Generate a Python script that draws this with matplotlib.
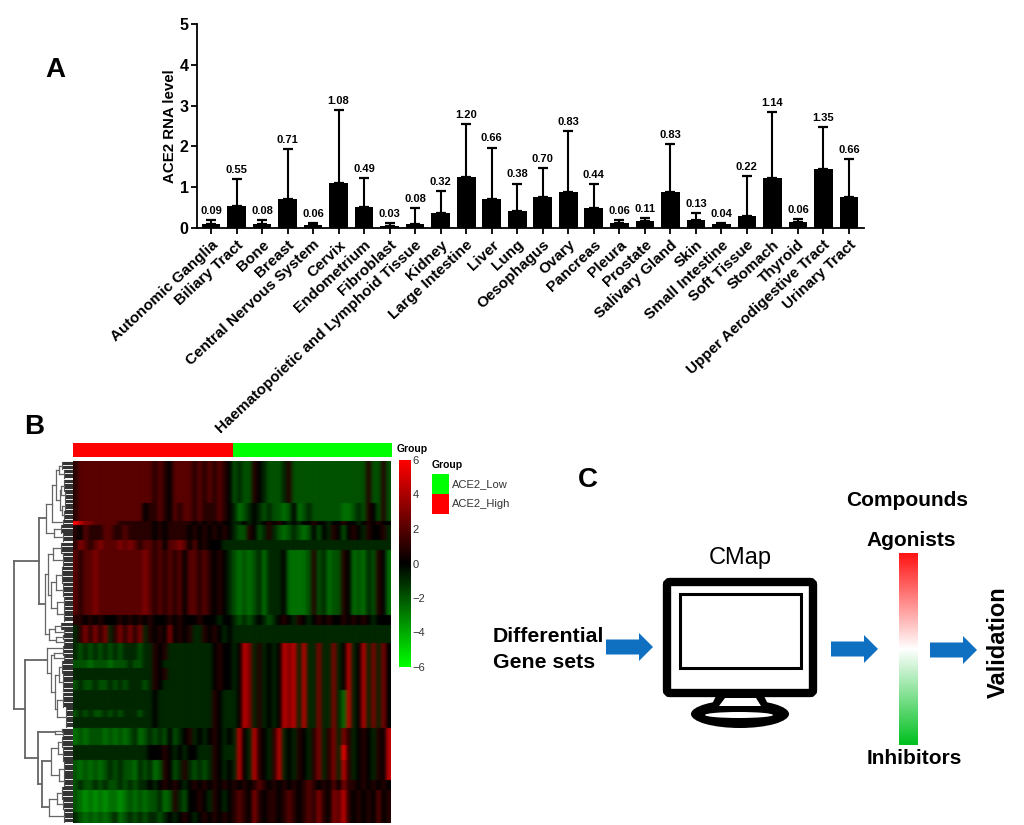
import numpy as np
import matplotlib
matplotlib.use("Agg")
import matplotlib.pyplot as plt
from matplotlib.colors import LinearSegmentedColormap, ListedColormap
from matplotlib.patches import Rectangle, FancyBboxPatch, Ellipse, Polygon, FancyArrow

plt.rcParams['font.family'] = ['Liberation Sans', 'DejaVu Sans']

# -------- panel A values --------
tissues = ['Autonomic Ganglia', 'Biliary Tract', 'Bone', 'Breast', 'Central Nervous System',
           'Cervix', 'Endometrium', 'Fibroblast', 'Haematopoietic and Lymphoid Tissue', 'Kidney',
           'Large Intestine', 'Liver', 'Lung', 'Oesophagus', 'Ovary', 'Pancreas', 'Pleura',
           'Prostate', 'Salivary Gland', 'Skin', 'Small Intestine', 'Soft Tissue', 'Stomach',
           'Thyroid', 'Upper Aerodigestive Tract', 'Urinary Tract']
bar_height = [0.09, 0.55, 0.09, 0.72, 0.07, 1.10, 0.52, 0.06, 0.11, 0.36, 1.24, 0.70, 0.42,
              0.75, 0.88, 0.50, 0.12, 0.17, 0.89, 0.20, 0.11, 0.30, 1.23, 0.15, 1.44, 0.75]
err_top = [0.20, 1.20, 0.20, 1.93, 0.13, 2.90, 1.22, 0.13, 0.48, 0.90, 2.55, 1.97, 1.09,
           1.46, 2.37, 1.08, 0.19, 0.24, 2.06, 0.36, 0.12, 1.27, 2.85, 0.21, 2.48, 1.68]
bar_label = ['0.09', '0.55', '0.08', '0.71', '0.06', '1.08', '0.49', '0.03', '0.08', '0.32',
             '1.20', '0.66', '0.38', '0.70', '0.83', '0.44', '0.06', '0.11', '0.83', '0.13',
             '0.04', '0.22', '1.14', '0.06', '1.35', '0.66']

# -------- panel B heatmap, coarse blocks read by eye --------
# one letter per column block, grouped by 8 (32 ACE2_High columns then 32 ACE2_Low columns)
levels = {'G': -3.4, 'g': -2.6, 'm': -1.9, 'd': -0.9, '.': 0.0, 'r': 0.9, 'c': 2.1, 'R': 3.0, 'H': 4.5, 'B': 6.0}
stripe_a = "d.HRdrd. d.HRHdHd dRddRd.H d.HdRdR."
stripe_b = "d.HRdrd. d.HRHdHd dRddRdgH d.HdRdR."
stripe_c = "dH.dHr.d rHd.dr.d rRdrRdRr d.r.dr.H"
stripe_d = "dH.dHr.d rHd.dr.d rRdrRdBr d.r.dr.H"
stripe_e = "dH.dHr.d rHd.dr.d rRdrRdHr d.r.dr.H"
heat_rows = [
    "rccccccc cccccccc rcr.cccc rcrcrcr. mdmmr.dm mmdrmmmm mmmmmmmm mmmrmmrm",
    "rccccccc cccccc.r rcr.crcc rcrrrcr. dgmd.dmd mmgm.gmd mmmmmmgg mdmr.mrm",
    "BHRRcccc crrrrrrr .r.rrrrr .r.r.r.. dd.d.d.r .r.d.d.. r..d..r. .d.r.r..",
    "r.crrrcc rrcrrrrr .r.rrrr. r.r.r.r. dmmr.mdr dmgmdmgm .m.dr.m. r.dr..rd",
    "rRcrcRcc cRcRcrcc rc.ccRc. c.r...dd dddddddd dddddddd dddddddd dddddddd",
    "crccRccc ccccccRc rcrcrc.c crcr.r.d mgmgmdgd dd.ggggm rmdgmmr. gmgdmr.g",
    "rr.r.r.. .r.r.r.r ...r.r.. .r...d.. dmdmd.dm d.r.dr.d .r.r..r. r.r.d...",
    "drRrRrRd rRrRrRdr .r.R.r.r ddr.r.d. dddddddd dddddddd dddddddd dddddddd",
    "dmdmdmdm dmdddmdd r.rddddd dddd.r.. " + stripe_a,
    "mmmgmmmg mmmdmmdd r.dddddd dddd.r.. " + stripe_a,
    "dddddddd dddddddd r.rddddd dddd.r.. " + stripe_a,
    "mdmmdmmd mdmdddmd r.dddddd dddd.r.. " + stripe_a,
    "dddddddd dddddddd .ddddddd ddddr.dd " + stripe_b,
    "mdmdmmdm dmdddmdd .ddddddd ddddr.dd " + stripe_b,
    "dddddddd dddddddd .ddddddd ddddr.dd " + stripe_b,
    "gmgmmmgm gmgmdgmd mdm.md.r d.d.r.d. " + stripe_c,
    "dddddddd ddddddd. ..r.d.d. .dddr.dd " + stripe_d,
    "mgmgmgmd mdmmgdmd gmr.mdrd mdmdr.d. " + stripe_e,
    "mdmmdmdm mdmdmdd. d.r.r.d. r.r.r.r. r.r.rcr. r.r.r.rc r.r.c.Rr r.r.r.r.",
    "mgGgGgGg gGgmgmgm mdgmrdm. .r.dr.d. rcr.Rr.r r.rcr.rc rRr.RcHr .r.r.c.r",
    "dmgmgmgm dgmdmdmd dmd.d.r. d.r.r.r. rcr.Rr.r r.rcr.rc rRr.RcHr .r.r.c.r",
]
row_sizes = [42, 18, 4, 15, 10, 65, 10, 18, 17, 8, 12, 10, 20, 7, 11, 17, 15, 20, 10, 22, 11]
group_values = [1] * 32 + [0] * 32

# dendrogram: [depth, child, child] or a terminal cluster (first row, last row, depth)
upper_tree = [34,
              [27,
               [21,
                [17, [14, (1, 8, 11), (9, 17, 9)],
                 [13, [12, (19, 30, 9), (30, 38, 8)], [11, (39, 50, 8), (50, 58, 9)]]],
                (59, 63, 10)],
               [19, (64, 72, 12), (72, 80, 10)]],
              [28,
               [25, [20, (82, 92, 12), (92, 105, 10)],
                [22, [17, (106, 122, 11), (122, 135, 10)], [16, (136, 146, 9), (146, 160, 9)]]],
               [24, [18, (162, 168, 12), (168, 174, 9)], [17, (174, 178, 10), (178, 184, 9)]]]]
lower_tree = [48,
              [26, (185, 188, 10),
               [22, [19, (189, 194, 10), (194, 199, 9)],
                [18, [14, (200, 212, 11), (212, 230, 10)], [16, (232, 246, 10), (246, 266, 7)]]]],
              [35,
               [18, (268, 271, 11), (271, 275, 10)],
               [31,
                [22, [15, (276, 286, 11), (286, 300, 10)], [14, (300, 315, 9), (315, 325, 9)]],
                [24, [16, (326, 338, 11), (338, 348, 10)], (348, 361, 9)]]]]
full_tree = [59, upper_tree, lower_tree]


def px_axes(x0, y0, x1, y1):
    # axes from pixel corners of the 1024x825 picture (y counted from the top)
    return fig.add_axes([x0 / 1024, 1 - y1 / 825, (x1 - x0) / 1024, (y1 - y0) / 825])


def draw_tree(ax, node):
    # returns the row where the parent branch joins and the depth of this node
    if isinstance(node, tuple):
        first, last, depth = node
        for r in np.arange(first, last + 0.1, 1.2):
            ax.plot([-depth, 0], [r, r], color='#333333', lw=0.8, solid_capstyle='butt')
        ax.plot([-depth, -depth], [first, last], color='#555555', lw=0.8)
        return (first + last) / 2, depth
    depth, a, b = node
    ya, da = draw_tree(ax, a)
    yb, db = draw_tree(ax, b)
    lw = 1.3 if depth > 30 else 0.9
    ax.plot([-depth, -depth], [ya, yb], color='#666666', lw=lw)
    ax.plot([-depth, -da], [ya, ya], color='#666666', lw=lw)
    ax.plot([-depth, -db], [yb, yb], color='#666666', lw=lw)
    return (ya + yb) / 2, depth


fig = plt.figure(figsize=(10.24, 8.25), dpi=100, facecolor='white')

# ================ panel A ================
ax_a = px_axes(197, 24, 864, 228)
xpos = np.arange(len(tissues))
ax_a.bar(xpos, bar_height, width=0.73, color='black')
ax_a.errorbar(xpos, bar_height, yerr=[[0] * len(tissues), np.array(err_top) - np.array(bar_height)],
              fmt='none', ecolor='black', elinewidth=1.5, capsize=3.5, capthick=1.6)
for x, top, lab in zip(xpos, err_top, bar_label):
    ax_a.annotate(lab, (x, top), xytext=(0, 3), textcoords='offset points', ha='center', va='bottom',
                  fontsize=8, fontweight='bold')
ax_a.set_xlim(-0.55, 25.59)
ax_a.set_ylim(0, 5)
ax_a.set_yticks(range(6))
ax_a.set_xticks(xpos)
ax_a.set_xticklabels(tissues, rotation=43, ha='right', rotation_mode='anchor', fontsize=11, fontweight='bold')
ax_a.tick_params(axis='y', labelsize=11.5, width=1.3, length=4, pad=2)
ax_a.tick_params(axis='x', width=1.3, length=4, pad=3)
for lab in ax_a.get_yticklabels():
    lab.set_fontweight('bold')
ax_a.set_ylabel('ACE2 RNA level', fontsize=10.8, fontweight='bold', labelpad=2)
ax_a.spines['top'].set_visible(False)
ax_a.spines['right'].set_visible(False)
ax_a.spines['left'].set_linewidth(1.3)
ax_a.spines['bottom'].set_linewidth(1.3)

# ================ panel B ================
green_black_red = LinearSegmentedColormap.from_list('gbr', ['#00ff00', '#000000', '#ff0000'])
heat = np.array([[levels[c] for c in row.replace(' ', '')] for row in heat_rows])
heat_full = np.repeat(heat, row_sizes, axis=0)

ax_heat = px_axes(73, 461, 391, 823)
mesh = ax_heat.imshow(heat_full, cmap=green_black_red, vmin=-6, vmax=6, aspect='auto',
                      interpolation='gaussian', extent=(0, heat.shape[1], sum(row_sizes), 0))
ax_heat.axis('off')

ax_den = px_axes(10, 461, 73, 823)
draw_tree(ax_den, full_tree)
ax_den.set_xlim(-63, 0)
ax_den.set_ylim(sum(row_sizes), 0)
ax_den.axis('off')

ax_group = px_axes(73, 443, 392, 457)
ax_group.pcolormesh([group_values], cmap=ListedColormap(['#00ff00', '#ff0000']), vmin=0, vmax=1)
ax_group.axis('off')

ax_cbar = px_axes(399, 460, 411, 667)
cbar = fig.colorbar(mesh, cax=ax_cbar, ticks=[-6, -4, -2, 0, 2, 4, 6])
cbar.outline.set_visible(False)
cbar.ax.tick_params(length=0, labelsize=8, labelcolor='#333333', pad=1)

# ================ text and panel C, drawn in picture pixels ================
ov = fig.add_axes([0, 0, 1, 1], facecolor='none')
ov.set_xlim(0, 1024)
ov.set_ylim(825, 0)
ov.axis('off')

ov.text(45, 70, 'A', fontsize=20, fontweight='bold', va='center')
ov.text(24, 427, 'B', fontsize=20, fontweight='bold', va='center')
ov.text(578, 480, 'C', fontsize=20, fontweight='bold', va='center')

ov.text(397, 449, 'Group', fontsize=7.5, fontweight='bold', va='center')
ov.text(432, 465, 'Group', fontsize=7.5, fontweight='bold', va='center')
ov.add_patch(Rectangle((432, 474), 17, 20, color='#00ff00', lw=0))
ov.add_patch(Rectangle((432, 494), 17, 20, color='#ff0000', lw=0))
ov.text(452, 484, 'ACE2_Low', fontsize=8, color='#333333', va='center')
ov.text(452, 504, 'ACE2_High', fontsize=8, color='#333333', va='center')

# monitor
ov.add_patch(FancyBboxPatch((667, 582), 146, 111, boxstyle='round,pad=0,rounding_size=3',
                            fc='white', ec='black', lw=6))
ov.add_patch(Rectangle((680, 594), 121, 74, fc='white', ec='black', lw=2.2))
ov.add_patch(Ellipse((740, 714), 98, 28, fc='black', ec='none'))
ov.add_patch(Ellipse((739, 715), 68, 6, fc='white', ec='none'))
ov.add_patch(Polygon([(716, 696), (764, 696), (772, 712), (708, 712)], fc='black', ec='none'))
ov.add_patch(Polygon([(725, 698), (756, 698), (761, 706), (719, 706)], fc='white', ec='none'))

# compound gradient
compound_cmap = LinearSegmentedColormap.from_list('cmp', ['#ff1414', '#ffffff', '#00c020'])
ov.imshow(np.linspace(0, 1, 200)[:, None], cmap=compound_cmap, extent=(899, 918, 745, 553), aspect='auto', zorder=2)
ov.set_xlim(0, 1024)
ov.set_ylim(825, 0)

# arrows
for x0, x1, y in [(606, 653, 647), (831, 878, 649), (930, 977, 650)]:
    ov.add_patch(FancyArrow(x0, y, x1 - x0, 0, width=15, head_width=28, head_length=14,
                            length_includes_head=True, color='#0f6fc0', lw=0))

ov.text(740, 558, 'CMap', fontsize=17, ha='center', va='center')
ov.text(493, 636, 'Differential', fontsize=15.3, fontweight='bold', va='center')
ov.text(493, 662, 'Gene sets', fontsize=15.3, fontweight='bold', va='center')
ov.text(907, 500, 'Compounds', fontsize=15, fontweight='bold', ha='center', va='center')
ov.text(911, 540, 'Agonists', fontsize=15, fontweight='bold', ha='center', va='center')
ov.text(914, 759, 'Inhibitors', fontsize=15, fontweight='bold', ha='center', va='center')
ov.text(998, 642, 'Validation', fontsize=17, fontweight='bold', rotation=90, ha='center', va='center')

fig.savefig('out.png', dpi=100)
